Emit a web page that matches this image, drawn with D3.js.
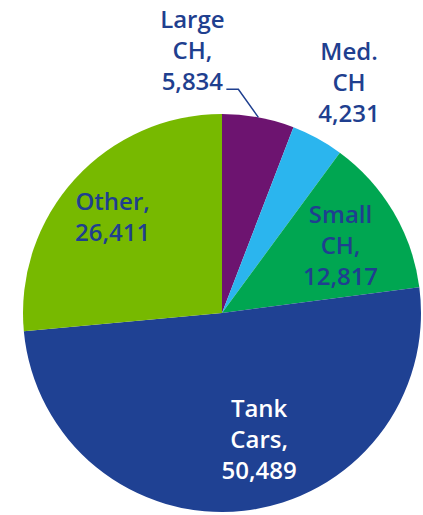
<!DOCTYPE html>
<html>
<head>
<meta charset="utf-8">
<script src="https://cdn.jsdelivr.net/npm/d3@7"></script>
<style>
  html, body { margin: 0; padding: 0; background: #fff; }
  svg { display: block; }
  text { font-family: "Open Sans", sans-serif; font-weight: 600; font-size: 24px; }
</style>
</head>
<body>
<div id="container"></div>
<script>
/* DATA */
const names = ["Large CH", "Med. CH", "Small CH", "Tank Cars", "Other"];
const values = [5834, 4231, 12817, 50489, 26411];
const labelLines = [
  ["Large", "CH,", "5,834"],
  ["Med.", "CH", "4,231"],
  ["Small", "CH,", "12,817"],
  ["Tank", "Cars,", "50,489"],
  ["Other,", "26,411"]
];

/* CONSTANTS AND GLOBALS */
const width = 423, height = 515;
const cx = 222, cy = 313, radius = 199;
const colors = ["#6d1470", "#2bb5ee", "#00a651", "#1f4193", "#77b900"];
const textColors = ["#1f3f8f", "#1f3f8f", "#1f3f8f", "#ffffff", "#1f3f8f"];
const lineH = 31;
// label placement: fraction of radius along mid angle, then nudge
const labelPlace = [
  { k: 1.33, dx: -78, dy: -2 },
  { k: 1.33, dx: 0, dy: 2 },
  { k: 0.68, dx: 2, dy: 2 },
  { k: 0.64, dx: 23, dy: 0 },
  { k: 0.71, dx: -5, dy: 0 }
];

const data = names.map((n, i) => ({ name: n, value: values[i], lines: labelLines[i], i }));

const svg = d3.select("#container")
  .append("svg")
  .attr("width", width)
  .attr("height", height);

const pie = d3.pie().value(d => d.value).sort(null);
const arc = d3.arc().innerRadius(0).outerRadius(radius);
const arcs = pie(data);

const g = svg.append("g").attr("transform", `translate(${cx},${cy})`);

g.selectAll("path.slice")
  .data(arcs)
  .join("path")
  .attr("class", "slice")
  .attr("d", arc)
  .attr("fill", d => colors[d.data.i]);

const mid = d => (d.startAngle + d.endAngle) / 2;

// leader line for Large CH
const large = arcs[0];
const a0 = mid(large);
const p0 = [radius * Math.sin(a0), -radius * Math.cos(a0)];
const p1 = [p0[0] - 20, p0[1] - 28];
const p2 = [p1[0] - 12, p1[1]];
g.append("path")
  .attr("d", d3.line()([p0, p1, p2]))
  .attr("fill", "none")
  .attr("stroke", "#1f3f8f")
  .attr("stroke-width", 1.5);

// labels
arcs.forEach(d => {
  const p = labelPlace[d.data.i];
  const a = mid(d);
  const x = p.k * radius * Math.sin(a) + p.dx;
  const y = -p.k * radius * Math.cos(a) + p.dy;
  const n = d.data.lines.length;
  const t = g.append("text")
    .attr("text-anchor", "middle")
    .attr("fill", textColors[d.data.i]);
  d.data.lines.forEach((ln, j) => {
    t.append("tspan")
      .attr("x", x)
      .attr("y", y + (j - (n - 1) / 2) * lineH + 8)
      .text(ln);
  });
});
</script>
</body>
</html>
